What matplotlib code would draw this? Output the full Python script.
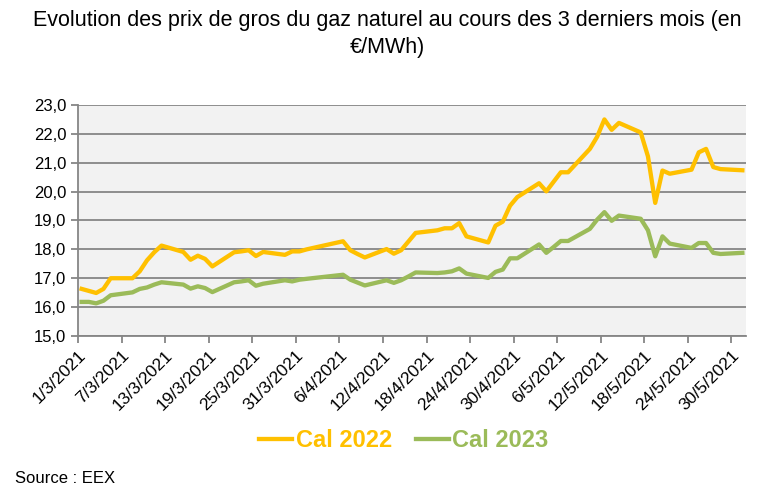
import matplotlib
matplotlib.use("Agg")
import matplotlib.pyplot as plt
from datetime import datetime, timedelta

# Trading days (day, month) in 2021
days = [(1, 3), (2, 3), (3, 3), (4, 3), (5, 3), (8, 3), (9, 3), (10, 3), (11, 3), (12, 3),
        (15, 3), (16, 3), (17, 3), (18, 3), (19, 3), (22, 3), (23, 3), (24, 3), (25, 3), (26, 3),
        (29, 3), (30, 3), (31, 3), (1, 4), (6, 4), (7, 4), (8, 4), (9, 4),
        (12, 4), (13, 4), (14, 4), (15, 4), (16, 4), (19, 4), (20, 4), (21, 4), (22, 4), (23, 4),
        (26, 4), (27, 4), (28, 4), (29, 4), (30, 4), (3, 5), (4, 5), (5, 5), (6, 5), (7, 5),
        (10, 5), (11, 5), (12, 5), (13, 5), (14, 5), (17, 5), (18, 5), (19, 5), (20, 5), (21, 5),
        (24, 5), (25, 5), (26, 5), (27, 5), (28, 5), (31, 5)]

cal_2022 = [16.63, 16.56, 16.49, 16.63, 17.00, 17.00, 17.24, 17.62, 17.90, 18.13,
            17.91, 17.64, 17.78, 17.67, 17.41, 17.90, 17.93, 17.97, 17.77, 17.91,
            17.81, 17.93, 17.93, 18.00, 18.28, 17.97, 17.84, 17.72,
            18.01, 17.85, 17.97, 18.27, 18.57, 18.66, 18.73, 18.73, 18.91, 18.45,
            18.24, 18.82, 18.96, 19.51, 19.81, 20.29, 20.01, 20.34, 20.67, 20.67,
            21.48, 21.90, 22.50, 22.14, 22.38, 22.05, 21.22, 19.61, 20.73, 20.62,
            20.76, 21.36, 21.48, 20.85, 20.78, 20.74]

cal_2023 = [16.18, 16.18, 16.13, 16.22, 16.41, 16.51, 16.63, 16.68, 16.78, 16.86,
            16.78, 16.64, 16.72, 16.66, 16.52, 16.86, 16.89, 16.93, 16.74, 16.81,
            16.93, 16.89, 16.95, 16.98, 17.12, 16.95, 16.85, 16.75,
            16.93, 16.84, 16.93, 17.06, 17.20, 17.18, 17.20, 17.24, 17.34, 17.16,
            17.01, 17.22, 17.30, 17.69, 17.69, 18.17, 17.88, 18.08, 18.29, 18.29,
            18.71, 19.03, 19.29, 18.99, 19.17, 19.06, 18.66, 17.76, 18.45, 18.20,
            18.05, 18.22, 18.22, 17.88, 17.84, 17.88]

series_names = ["Cal 2022", "Cal 2023"]
colors = ["#FFC000", "#9BBB59"]

plt.rcParams['font.family'] = ["Liberation Sans", "DejaVu Sans"]

# points sit in the middle of each day band (Excel date axis)
dates = [datetime(2021, m, d) + timedelta(hours=12) for d, m in days]

fig = plt.figure(figsize=(7.74, 4.97), dpi=100)
ax = fig.add_axes([0.1008, 0.324, 0.863, 0.4647])
ax.set_facecolor("#F2F2F2")

for vals, name, c in zip([cal_2022, cal_2023], series_names, colors):
    ax.plot(dates, vals, color=c, lw=3.1, label=name, solid_joinstyle="round")

ax.set_ylim(15, 23)
ax.set_yticks(range(15, 24))
ax.set_yticklabels([f"{v},0" for v in range(15, 24)], fontsize=12)
ax.yaxis.grid(True, color="#868686", lw=1.3)
ax.set_axisbelow(True)

ax.set_xlim(datetime(2021, 3, 1), datetime(2021, 6, 1))
ticks = [datetime(2021, 3, 1) + timedelta(days=6 * i) for i in range(16)]
ax.set_xticks(ticks)
ax.set_xticklabels([f"{t.day}/{t.month}/{t.year}" for t in ticks],
                   rotation=45, ha="right", rotation_mode="anchor", fontsize=12.5)

for s in ["top", "right"]:
    ax.spines[s].set_visible(False)
for s in ["left", "bottom"]:
    ax.spines[s].set_color("#868686")
    ax.spines[s].set_linewidth(1.3)
ax.tick_params(axis="both", colors="#868686", length=5, width=1.3, labelcolor="black")

fig.text(0.5, 0.932, "Evolution des prix de gros du gaz naturel au cours des 3 derniers mois (en\n€/MWh)",
         ha="center", va="center", fontsize=15.5, linespacing=1.4)

leg = fig.legend(loc="center", bbox_to_anchor=(0.522, 0.113), ncol=2, frameon=False,
                 handlelength=1.4, handletextpad=0.15, columnspacing=1.0,
                 prop={"weight": "bold", "size": 17}, labelcolor="linecolor")

fig.text(0.02, 0.038, "Source : EEX", fontsize=12, ha="left", va="center")

fig.savefig("out.png", dpi=100)
